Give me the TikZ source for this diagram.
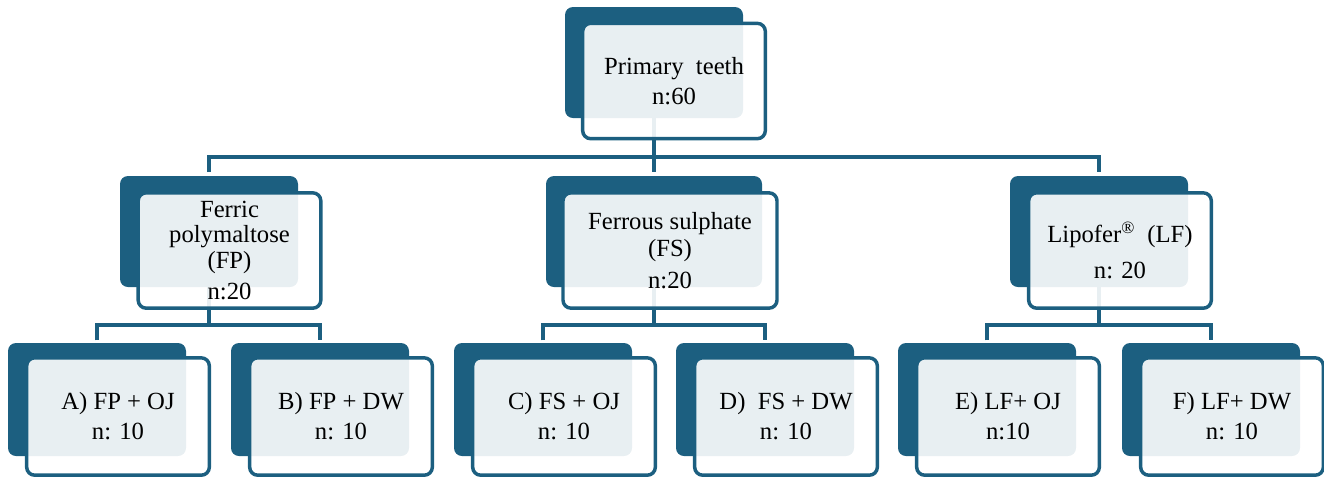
\documentclass[tikz,border=0pt]{standalone}
\usepackage{fontspec}
\setmainfont{Liberation Serif}
\definecolor{boxblue}{HTML}{1C5F80}
\begin{document}
\begin{tikzpicture}[x=0.75pt,y=-0.75pt,
    back/.style={fill=boxblue,rounded corners=6pt,inner sep=0pt,outer sep=0pt,
      minimum width=133.5pt,minimum height=83.25pt},
    front/.style={draw=boxblue,line width=2.6pt,fill=white,fill opacity=0.9,text opacity=1,
      rounded corners=6pt,inner sep=0pt,outer sep=0pt,align=center,
      minimum width=137pt,minimum height=86.5pt,font=\fontsize{18.5}{19}\selectfont},
    wire/.style={draw=boxblue,line width=2.8pt}]
    \useasboundingbox (0,0) rectangle (1324,476);

    \node[back] (ptb) at (654,62.5) {};
    \node[back] (fpb) at (209,231.5) {};
    \node[back,minimum width=162pt] (fsb) at (654,231.5) {};
    \node[back] (lfb) at (1099,231.5) {};

    \node[back,minimum height=84.75pt] (ab) at (97,399.5) {};
    \node[back,minimum height=84.75pt] (bb) at (320,399.5) {};
    \node[back,minimum height=84.75pt] (cb) at (543,399.5) {};
    \node[back,minimum height=84.75pt] (db) at (765,399.5) {};
    \node[back,minimum height=84.75pt] (eb) at (987,399.5) {};
    \node[back,minimum height=84.75pt] (fb) at (1211,399.5) {};

    \coordinate (top) at (654,157);
    \coordinate (left) at (209,325);
    \coordinate (mid) at (654,325);
    \coordinate (right) at (1099,325);

    \draw[wire] (ptb.south) -- (top);
    \draw[wire] ([yshift=3pt]fpb.north) |- (top) -| ([yshift=3pt]lfb.north);
    \draw[wire] (top) -- ([yshift=3pt]fsb.north);

    \draw[wire] (fpb.south) -- (left);
    \draw[wire] ([yshift=2pt]ab.north) |- (left) -| ([yshift=2pt]bb.north);
    \draw[wire] (fsb.south) -- (mid);
    \draw[wire] ([yshift=2pt]cb.north) |- (mid) -| ([yshift=2pt]db.north);
    \draw[wire] (lfb.south) -- (right);
    \draw[wire] ([yshift=2pt]eb.north) |- (right) -| ([yshift=2pt]fb.north);

    \node[front] (pt) at (674,81) {Primary~ teeth\\[3.5pt]n:60};
    \node[front] (fp) at (229.5,250.5) {Ferric\\polymaltose\\(FP)\\[4.5pt]n:20};
    \node[front,minimum width=160.5pt] (fs) at (670,250.5) {Ferrous sulphate\\[1.3pt](FS)\\[5pt]n:20};
    \node[front] (lf) at (1120,250.5) {Lipofer\textsuperscript{®}~ (LF)\\[8pt]n: 20};

    \node[front,minimum height=88pt] (a) at (118,416.5) {A) FP + OJ\\[3.5pt]n: 10};
    \node[front,minimum height=88pt] (b) at (341,416.5) {B) FP + DW\\[3.5pt]n: 10};
    \node[front,minimum height=88pt] (c) at (564,416.5) {C) FS + OJ\\[3.5pt]n: 10};
    \node[front,minimum height=88pt] (d) at (786,416.5) {D)~ FS + DW\\[3.5pt]n: 10};
    \node[front,minimum height=88pt] (e) at (1008,416.5) {E) LF+ OJ\\[3.5pt]n:10};
    \node[front,minimum height=88pt] (f) at (1232,416.5) {F) LF+ DW\\[3.5pt]n: 10};
\end{tikzpicture}
\end{document}
